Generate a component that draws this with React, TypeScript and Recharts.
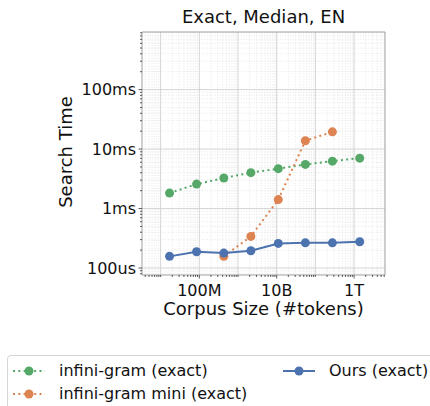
import { LineChart, Line, XAxis, YAxis, CartesianGrid, ReferenceArea } from 'recharts'

// corpus size in tokens, search time in ms
const corpusSizes = [1.7e7, 8.5e7, 4.3e8, 2.15e9, 1.1e10, 5.5e10, 2.75e11, 1.4e12]
const infiniGram = [1.82, 2.58, 3.26, 4.01, 4.68, 5.52, 6.27, 7.04]
const infiniGramMini = [null, null, 0.157, 0.34, 1.415, 13.8, 19.5, null]
const ours = [0.157, 0.1875, 0.178, 0.195, 0.259, 0.265, 0.265, 0.277]

const xLabels: Record<number, string> = { 8: '100M', 10: '10B', 12: '1T' }
const yLabels: Record<number, string> = { [-1]: '100us', 0: '1ms', 1: '10ms', 2: '100ms' }

const X_DOMAIN: [number, number] = [3.3e6, 6.3e12]
const Y_DOMAIN: [number, number] = [0.0763, 930]

const GREEN = '#55a868'
const ORANGE = '#dd8452'
const BLUE = '#4c72b0'
const TEXT = '#111'
const FONT = '"DejaVu Sans", sans-serif'

function decades(lo: number, hi: number) {
  const major: number[] = []
  const minor: number[] = []
  for (let d = Math.floor(Math.log10(lo)); d <= Math.ceil(Math.log10(hi)); d++) {
    for (let m = 1; m <= 9; m++) {
      const v = Number((m * Math.pow(10, d)).toPrecision(3))
      if (v < lo || v > hi) continue
      if (m === 1) major.push(v)
      else minor.push(v)
    }
  }
  return { major, minor }
}

const xTicks = decades(X_DOMAIN[0], X_DOMAIN[1])
const yTicks = decades(Y_DOMAIN[0], Y_DOMAIN[1])

const data = corpusSizes.map((size, i) => ({
  size,
  infiniGram: infiniGram[i],
  infiniGramMini: infiniGramMini[i],
  ours: ours[i],
}))

const exp = (v: number) => Math.round(Math.log10(v))
const isMajor = (v: number) => Math.abs(Math.log10(v) - exp(v)) < 1e-6

function XTick({ x, y, payload }: any) {
  const v = payload.value
  const label = isMajor(v) ? xLabels[exp(v)] : undefined
  return (
    <g>
      <line x1={x} x2={x} y1={y} y2={y + (label ? 3.5 : 2)} stroke="#333" strokeWidth={0.8} />
      {label && (
        <text x={x} y={y + 15} textAnchor="middle" dominantBaseline="central" fontSize={16} fill={TEXT} fontFamily={FONT}>
          {label}
        </text>
      )}
    </g>
  )
}

function YTick({ x, y, payload }: any) {
  const v = payload.value
  const label = isMajor(v) ? yLabels[exp(v)] : undefined
  return (
    <g>
      <line x1={x} x2={x - (label ? 3.5 : 2)} y1={y} y2={y} stroke="#333" strokeWidth={0.8} />
      {label && (
        <text x={x - 6} y={y} textAnchor="end" dominantBaseline="central" fontSize={16} fill={TEXT} fontFamily={FONT}>
          {label}
        </text>
      )}
    </g>
  )
}

function LegendMark({ color, dotted }: { color: string; dotted?: boolean }) {
  return (
    <svg width={34} height={12} style={{ display: 'block' }}>
      <line x1={1} x2={33} y1={6} y2={6} stroke={color} strokeWidth={2} strokeDasharray={dotted ? '2 3.3' : undefined} />
      <circle cx={17} cy={6} r={4.5} fill={color} />
    </svg>
  )
}

export default function App() {
  return (
    <div style={{ position: 'absolute', left: 0, top: 0, width: 430, height: 406, overflow: 'hidden', background: '#fff', fontFamily: FONT, color: TEXT }}>
      <div style={{ position: 'absolute', left: 142, width: 243, top: 6, textAlign: 'center', fontSize: 18, lineHeight: '22px' }}>
        Exact, Median, EN
      </div>
      <div style={{ position: 'absolute', left: 65, top: 152, transform: 'translate(-50%, -50%) rotate(-90deg)', fontSize: 18, whiteSpace: 'nowrap' }}>
        Search Time
      </div>
      <div style={{ position: 'absolute', left: 142, width: 243, top: 298, textAlign: 'center', fontSize: 18, lineHeight: '22px' }}>
        Corpus Size (#tokens)
      </div>

      <LineChart width={430} height={406} data={data} margin={{ top: 32, right: 45, left: 0, bottom: 91 }}>
        <CartesianGrid horizontalValues={yTicks.minor} verticalValues={xTicks.minor} stroke="#dedede" strokeDasharray="1 1.6" strokeWidth={0.7} />
        <CartesianGrid horizontalValues={yTicks.major} verticalValues={xTicks.major} stroke="#d0d0d0" strokeWidth={0.9} />
        <XAxis
          dataKey="size"
          type="number"
          scale="log"
          domain={X_DOMAIN}
          allowDataOverflow
          ticks={[...xTicks.major, ...xTicks.minor]}
          interval={0}
          tick={(p: any) => <XTick {...p} />}
          tickLine={false}
          tickSize={0}
          tickMargin={0}
          axisLine={false}
          height={40}
        />
        <YAxis
          type="number"
          scale="log"
          domain={Y_DOMAIN}
          allowDataOverflow
          ticks={[...yTicks.major, ...yTicks.minor]}
          interval={0}
          tick={(p: any) => <YTick {...p} />}
          tickLine={false}
          tickSize={0}
          tickMargin={0}
          axisLine={false}
          width={142}
        />
        <ReferenceArea x1={X_DOMAIN[0]} x2={X_DOMAIN[1]} y1={Y_DOMAIN[0]} y2={Y_DOMAIN[1]} fill="none" stroke="#a0a0a0" strokeWidth={1} />
        <Line dataKey="infiniGram" stroke={GREEN} strokeWidth={2} strokeDasharray="2 3.3" dot={{ r: 4.5, fill: GREEN, stroke: GREEN, strokeWidth: 0 }} isAnimationActive={false} />
        <Line dataKey="infiniGramMini" stroke={ORANGE} strokeWidth={2} strokeDasharray="2 3.3" dot={{ r: 4.5, fill: ORANGE, stroke: ORANGE, strokeWidth: 0 }} isAnimationActive={false} />
        <Line dataKey="ours" stroke={BLUE} strokeWidth={2} dot={{ r: 4.5, fill: BLUE, stroke: BLUE, strokeWidth: 0 }} isAnimationActive={false} />
      </LineChart>

      <div style={{ position: 'absolute', left: 7, top: 355, width: 440, height: 70, border: '1px solid #d6d6d6', borderRadius: 4, fontSize: 16 }}>
        <div style={{ position: 'absolute', left: 4, top: 5, display: 'flex', alignItems: 'center', gap: 13 }}>
          <LegendMark color={GREEN} dotted />
          <span>infini-gram (exact)</span>
        </div>
        <div style={{ position: 'absolute', left: 4, top: 28, display: 'flex', alignItems: 'center', gap: 13 }}>
          <LegendMark color={ORANGE} dotted />
          <span>infini-gram mini (exact)</span>
        </div>
        <div style={{ position: 'absolute', left: 274, top: 5, display: 'flex', alignItems: 'center', gap: 13 }}>
          <LegendMark color={BLUE} />
          <span>Ours (exact)</span>
        </div>
      </div>
    </div>
  )
}
